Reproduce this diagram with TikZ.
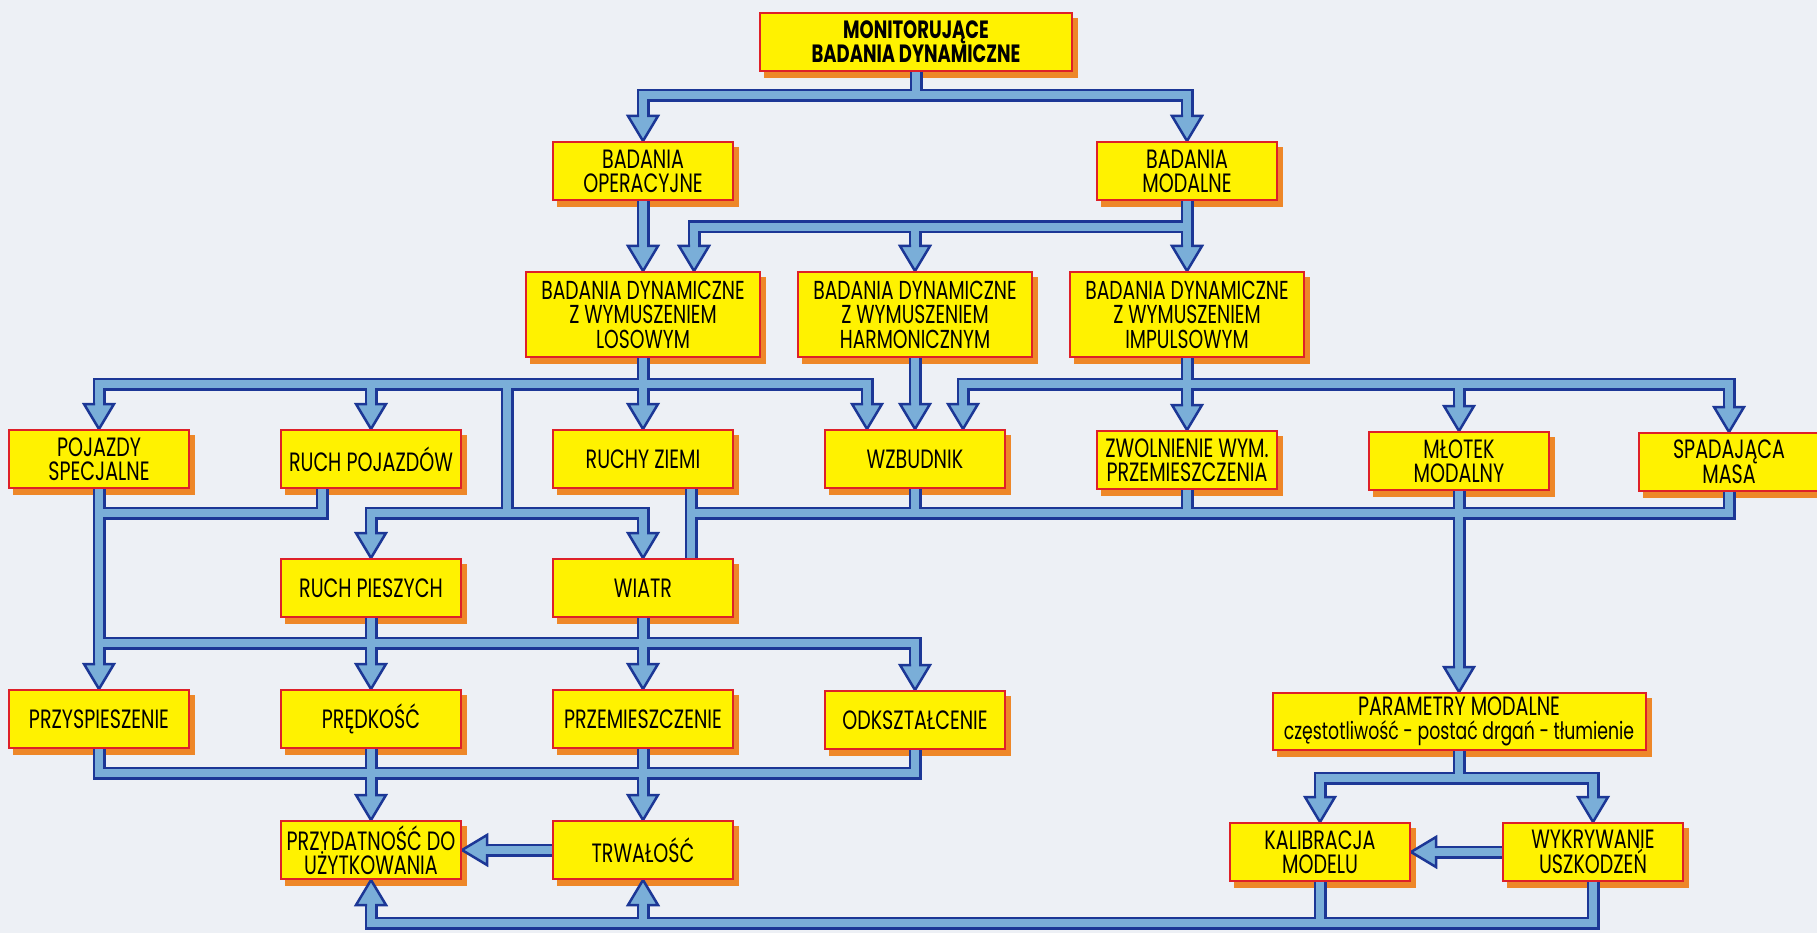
\documentclass[tikz,border=0pt]{standalone}
\usepackage{fontspec}
\setmainfont{Poppins}[FakeStretch=0.72]
\usetikzlibrary{calc}
\pgfdeclarelayer{lshadow}
\pgfdeclarelayer{lpipe}
\pgfsetlayers{lshadow,lpipe,main}
\definecolor{bgc}{RGB}{237,240,245}
\definecolor{boxy}{RGB}{255,242,0}
\definecolor{boxr}{RGB}{222,32,40}
\definecolor{shad}{RGB}{238,135,40}
\definecolor{pipec}{RGB}{122,174,216}
\definecolor{pipeb}{RGB}{28,55,150}
\tikzset{
  box/.style={draw=boxr, fill=boxy, line width=2pt, inner sep=0pt, align=center,
    minimum width=180pt, minimum height=58pt, font=\fontsize{26.5}{24}\selectfont},
  wbox/.style={box, minimum width=234pt, minimum height=85pt, font=\fontsize{26}{24.5}\selectfont},
  tbox/.style={box, minimum width=312pt, font=\bfseries\fontsize{25}{22}\selectfont},
  pipeout/.style={draw=pipeb, line width=13pt, line join=miter, line cap=butt},
  pipein/.style={draw=pipec, line width=8pt, line join=miter, line cap=butt},
  headfill/.style={fill=pipec},
  headline/.style={draw=pipeb, line width=2.5pt, line join=miter},
}
\newcommand\hdown[1]{%
  \fill[headfill] (#1) -- ++(-15,-25) -- ++(30,0) -- cycle;
  \draw[headline] ($(#1)+(-4,-25)$) -- ++(-11,0) -- (#1) -- ++(15,-25) -- ++(-11,0);}
\newcommand\hup[1]{%
  \fill[headfill] (#1) -- ++(-15,25) -- ++(30,0) -- cycle;
  \draw[headline] ($(#1)+(-4,25)$) -- ++(-11,0) -- (#1) -- ++(15,25) -- ++(-11,0);}
\newcommand\hleft[1]{%
  \fill[headfill] (#1) -- ++(25,-15) -- ++(0,30) -- cycle;
  \draw[headline] ($(#1)+(25,-4)$) -- ++(0,-11) -- (#1) -- ++(25,15) -- ++(0,-11);}
\newcommand\pipenet{%
  (top.south) -- (j1)
  ($(oper.north)+(0,-25)$) |- (j1) -| ($(modal.north)+(0,-25)$)
  (oper.south) -- ($(losowym.north)+(0,-25)$)
  (modal.south) -- ($(impuls.north)+(0,-25)$)
  (j2) -| ($(losR)+(0,-25)$)
  ($(harm.north)+(0,-25)$) -- (harm.north |- j2)
  (losowym.south) -- ($(ruchyziemi.north)+(0,-25)$)
  ($(pojazdy.north)+(0,-25)$) |- (j3) -| ($(wzL)+(0,-25)$)
  ($(ruchpoj.north)+(0,-25)$) -- (ruchpoj.north |- j3)
  (harm.south) -- ($(wzbudnik.north)+(0,-25)$)
  (impuls.south) -- ($(zwolnienie.north)+(0,-25)$)
  ($(wzR)+(0,-25)$) |- (j4) -| ($(spadajaca.north)+(0,-25)$)
  ($(mlotek.north)+(0,-25)$) -- (mlotek.north |- j4)
  (j5) -- (j6)
  ($(pieszych.north)+(0,-25)$) |- (j6) -| ($(wiatr.north)+(0,-25)$)
  (pojazdy.south) -- ($(przysp.north)+(0,-25)$)
  (rpS) |- (j7)
  (rzS) -- (wiN)
  (j8) -| (spadajaca.south)
  (wzbudnik.south) -- (wzbudnik.south |- j8)
  (zwolnienie.south) -- (zwolnienie.south |- j8)
  (mlotek.south) -- ($(parametry.north)+(0,-25)$)
  (pieszych.south) -- ($(predkosc.north)+(0,-25)$)
  (wiatr.south) -- ($(przemiesz.north)+(0,-25)$)
  (j9) -| ($(odkszt.north)+(0,-25)$)
  (przysp.south) |- (j10) -- (odkszt.south)
  (predkosc.south) -- ($(przydatnosc.north)+(0,-25)$)
  (przemiesz.south) -- ($(trwalosc.north)+(0,-25)$)
  (trwalosc.west) -- ($(przydatnosc.east)+(25,0)$)
  (parametry.south) -- (j11)
  ($(kalibracja.north)+(0,-25)$) |- (j11) -| ($(wykrywanie.north)+(0,-25)$)
  (wykrywanie.west) -- ($(kalibracja.east)+(25,0)$)
  ($(przydatnosc.south)+(0,25)$) |- (j12) -| (wykrywanie.south)
  ($(trwalosc.south)+(0,25)$) -- (trwalosc.south |- j12)
  (kalibracja.south) -- (kalibracja.south |- j12)
}
\begin{document}
\begin{tikzpicture}[x=1pt,y=-1pt]
\begin{pgfonlayer}{lshadow}
\fill[bgc] (0,0) rectangle (1817,933);
\end{pgfonlayer}
\useasboundingbox (0,0) rectangle (1817,933);
% nodes
\node[tbox] (top) at (916,42) {MONITORUJĄCE\\BADANIA DYNAMICZNE};
\node[box] (oper) at (643,171) {BADANIA\\OPERACYJNE};
\node[box] (modal) at (1187,171) {BADANIA\\MODALNE};
\node[wbox] (losowym) at (643,314.5) {BADANIA DYNAMICZNE\\Z WYMUSZENIEM\\LOSOWYM};
\node[wbox] (harm) at (915,314.5) {BADANIA DYNAMICZNE\\Z WYMUSZENIEM\\HARMONICZNYM};
\node[wbox] (impuls) at (1187,314.5) {BADANIA DYNAMICZNE\\Z WYMUSZENIEM\\IMPULSOWYM};
\node[box] (pojazdy) at (99,459) {POJAZDY\\SPECJALNE};
\node[box] (ruchpoj) at (371,459) {RUCH POJAZDÓW};
\node[box] (ruchyziemi) at (643,459) {RUCHY ZIEMI};
\node[box] (wzbudnik) at (915,459) {WZBUDNIK};
\node[box] (zwolnienie) at (1187,460) {ZWOLNIENIE WYM.\\PRZEMIESZCZENIA};
\node[box] (mlotek) at (1459,461) {MŁOTEK\\MODALNY};
\node[box] (spadajaca) at (1729,462) {SPADAJĄCA\\MASA};
\node[box] (pieszych) at (371,588) {RUCH PIESZYCH};
\node[box] (wiatr) at (643,588) {WIATR};
\node[box] (przysp) at (99,719) {PRZYSPIESZENIE};
\node[box] (predkosc) at (371,719) {PRĘDKOŚĆ};
\node[box] (przemiesz) at (643,719) {PRZEMIESZCZENIE};
\node[box] (odkszt) at (915,720) {ODKSZTAŁCENIE};
\node[box, minimum width=373pt, minimum height=57pt] (parametry) at (1459,721.5) {PARAMETRY MODALNE\\{\fontsize{24}{24}\selectfont częstotliwość - postać drgań - tłumienie}};
\node[box] (przydatnosc) at (371,850) {PRZYDATNOŚĆ DO\\UŻYTKOWANIA};
\node[box] (trwalosc) at (643,850) {TRWAŁOŚĆ};
\node[box] (kalibracja) at (1320,852) {KALIBRACJA\\MODELU};
\node[box] (wykrywanie) at (1593,852) {WYKRYWANIE\\USZKODZEŃ};
% junctions
\coordinate (j1) at (916,95.5);
\coordinate (j2) at (1187,227);
\coordinate (j3) at (643,384);
\coordinate (j4) at (1187,384);
\coordinate (j5) at (507,384);
\coordinate (j6) at (507,513);
\coordinate (j7) at (99,513);
\coordinate (j8) at (691,513);
\coordinate (j9) at (99,643);
\coordinate (j10) at (915,773);
\coordinate (j11) at (1459,778);
\coordinate (j12) at (1000,923);
\coordinate (losR) at ($(losowym.north)+(51,0)$);
\coordinate (wzL) at ($(wzbudnik.north)+(-48,0)$);
\coordinate (wzR) at ($(wzbudnik.north)+(48,0)$);
\coordinate (rpS) at ($(ruchpoj.south)+(-49,0)$);
\coordinate (rzS) at ($(ruchyziemi.south)+(48,0)$);
\coordinate (wiN) at ($(wiatr.north)+(48,0)$);
% shadows
\begin{pgfonlayer}{lshadow}
\foreach \n in {top,oper,modal,losowym,harm,impuls,pojazdy,ruchpoj,ruchyziemi,wzbudnik,zwolnienie,mlotek,spadajaca,pieszych,wiatr,przysp,predkosc,przemiesz,odkszt,parametry,przydatnosc,trwalosc,kalibracja,wykrywanie}
  \fill[shad] ($(\n.south west)+(5,6)$) rectangle ($(\n.north east)+(5,6)$);
\end{pgfonlayer}
% connectors
\begin{pgfonlayer}{lpipe}
\draw[pipeout] \pipenet;
\draw[pipein] \pipenet;
\foreach \t in {oper.north,modal.north,losowym.north,losR,harm.north,impuls.north,pojazdy.north,ruchpoj.north,ruchyziemi.north,wzL,wzbudnik.north,wzR,zwolnienie.north,mlotek.north,spadajaca.north,pieszych.north,wiatr.north,przysp.north,predkosc.north,przemiesz.north,odkszt.north,parametry.north,przydatnosc.north,trwalosc.north,kalibracja.north,wykrywanie.north}
  {\hdown{\t}}
\hleft{przydatnosc.east}
\hleft{kalibracja.east}
\hup{przydatnosc.south}
\hup{trwalosc.south}
\end{pgfonlayer}
\end{tikzpicture}
\end{document}
